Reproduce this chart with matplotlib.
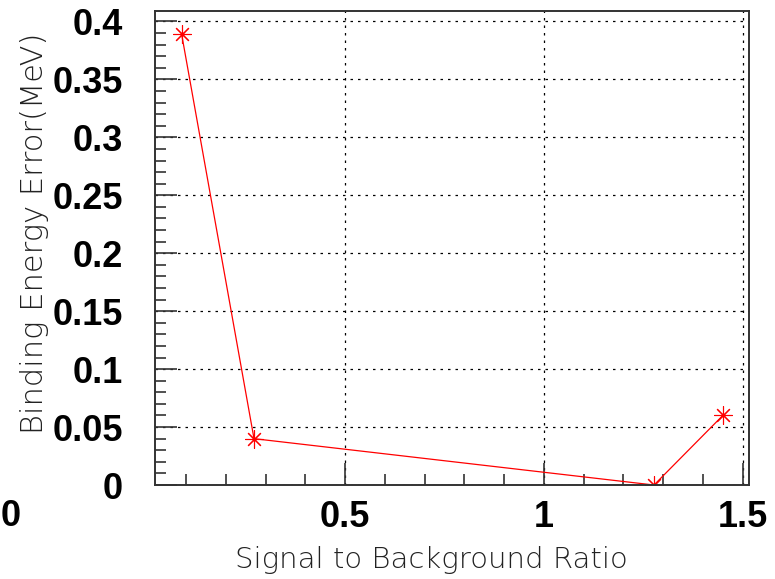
import matplotlib
matplotlib.use("Agg")
import matplotlib.pyplot as plt
from matplotlib.ticker import MultipleLocator, FixedLocator

# data
ratio = [0.089, 0.271, 1.277, 1.45]
be_error = [0.389, 0.04, 0.0, 0.06]

x_major = [0.5, 1.0, 1.5]
x_major_labels = ["0.5", "1", "1.5"]

fig = plt.figure(figsize=(7.75, 5.79), dpi=100)
ax = fig.add_axes([0.2, 0.1623, 0.7665, 0.8187])

ax.plot(ratio, be_error, color="red", lw=0.9,
        marker=(8, 2, 0), markersize=13, markeredgewidth=0.8)

ax.set_xlim(0.022, 1.516)
ax.set_ylim(0, 0.409)

ax.xaxis.set_major_locator(FixedLocator(x_major))
ax.set_xticklabels(x_major_labels)
ax.xaxis.set_minor_locator(MultipleLocator(0.1))
ax.yaxis.set_minor_locator(MultipleLocator(0.01))
ax.set_yticks([0, 0.05, 0.1, 0.15, 0.2, 0.25, 0.3, 0.35, 0.4])
ax.set_yticklabels(["0", "0.05", "0.1", "0.15", "0.2", "0.25", "0.3", "0.35", "0.4"])

ax.grid(True, which="major", color="black", linestyle=(0, (2, 4)), lw=0.9)

ax.tick_params(which="both", direction="in", top=False, right=False, width=1.2, color="#333333")
ax.tick_params(which="major", length=16)
ax.tick_params(which="minor", length=8)
ax.tick_params(axis="y", which="major", pad=23)
ax.tick_params(axis="x", which="major", pad=11)
for lab in ax.get_xticklabels() + ax.get_yticklabels():
    lab.set_fontfamily("Liberation Sans")
    lab.set_fontweight("bold")
    lab.set_fontsize(26)

for sp in ax.spines.values():
    sp.set_linewidth(1.4)
    sp.set_color("#333333")

# stray "0" label drawn by ROOT at the far left
fig.text(1 / 775, 1 - 517 / 579, "0", fontfamily="Liberation Sans", fontweight="bold",
         fontsize=26, ha="left", va="center")

fig.text(431 / 775, 1 - 560 / 579, "Signal to Background Ratio", fontfamily="DejaVu Sans",
         fontweight="light", fontsize=21, color="#222222", ha="center", va="center")
fig.text(35 / 775, 1 - 233 / 579, "Binding Energy Error(MeV)", fontfamily="DejaVu Sans",
         fontweight="light", fontsize=22, color="#222222", ha="center", va="center", rotation=90)

plt.savefig("out.png", dpi=100)
